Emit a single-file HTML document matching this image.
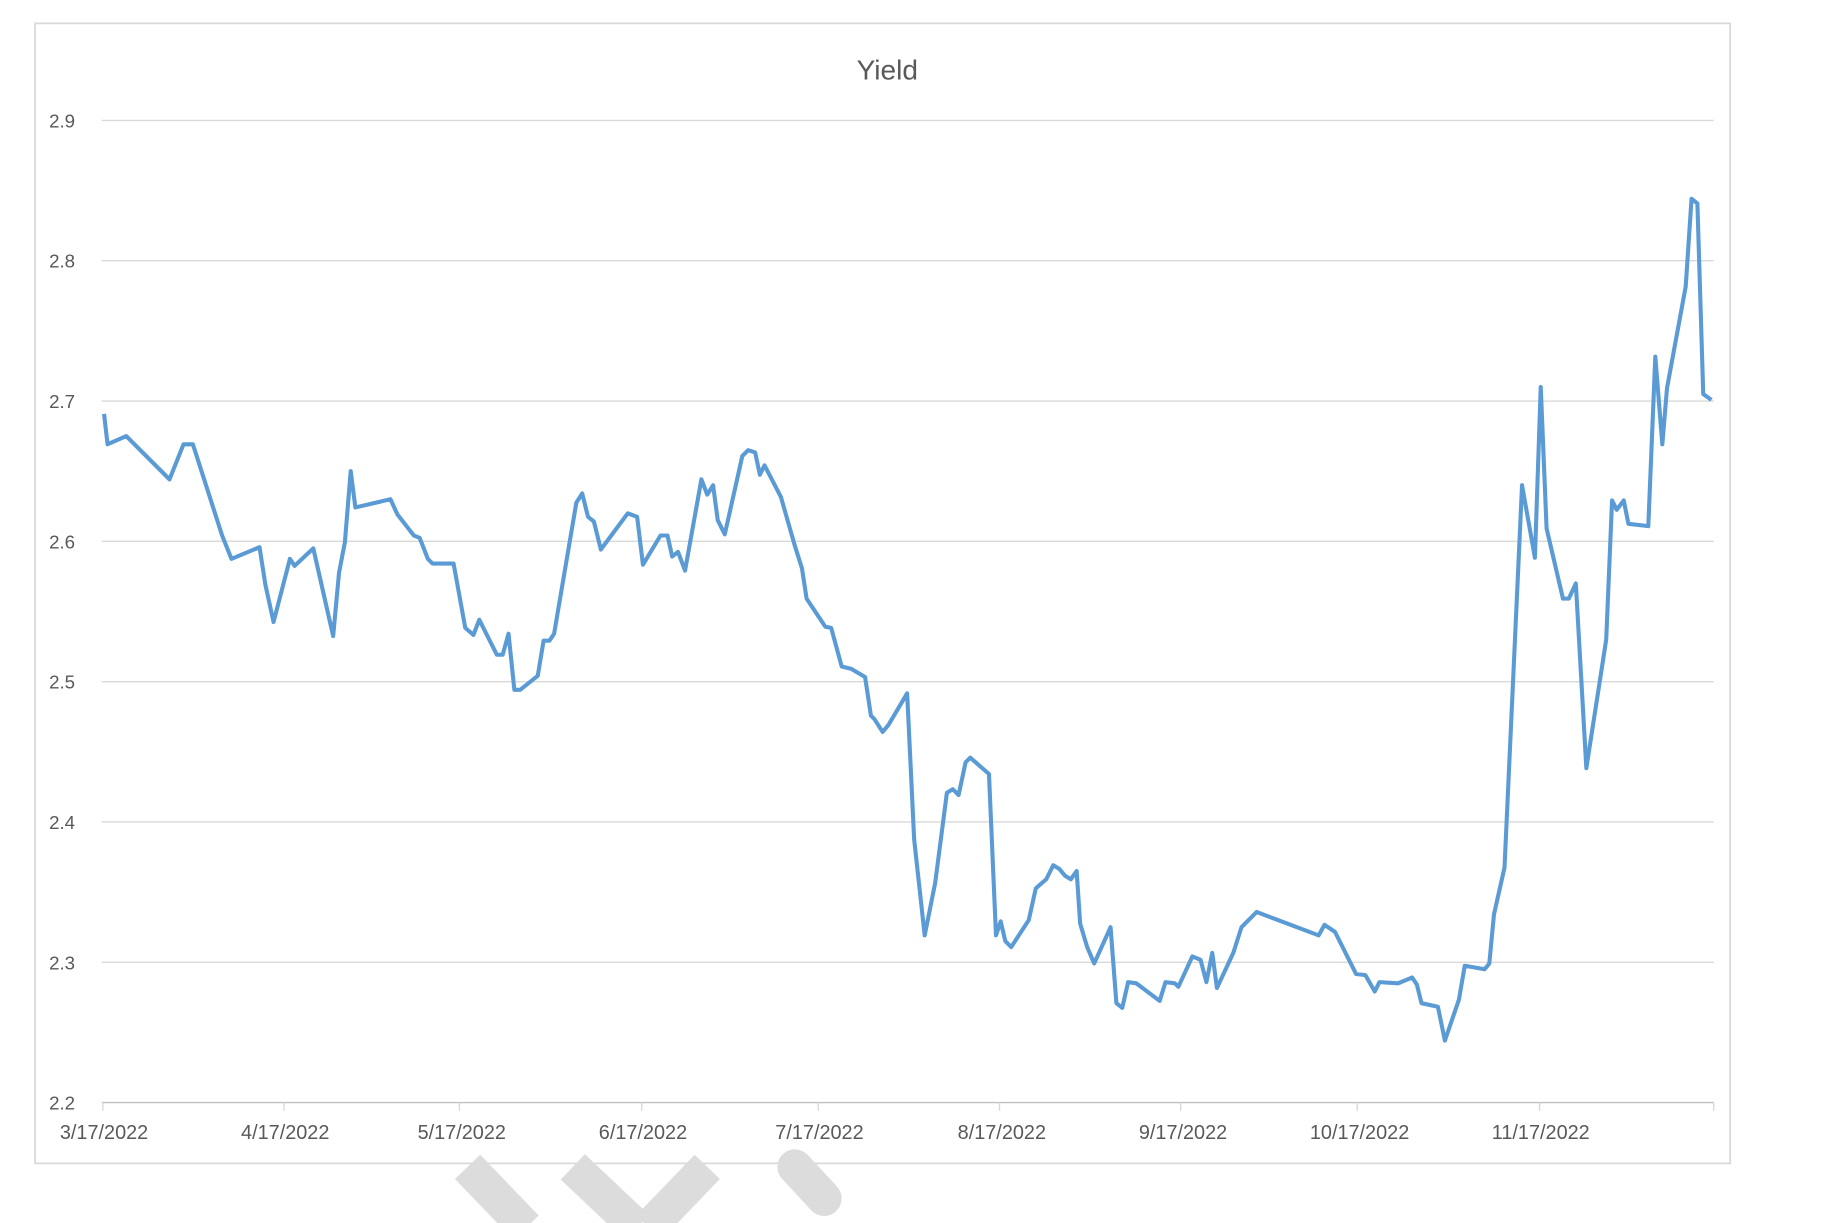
<!DOCTYPE html>
<html><head><meta charset="utf-8"><style>
html,body{margin:0;padding:0;background:#fff;width:1833px;height:1223px;overflow:hidden}
svg{display:block}
text{font-family:"Liberation Sans",sans-serif;fill:#595959}
</style></head><body>
<svg width="1833" height="1223" viewBox="0 0 1568 1046" preserveAspectRatio="none">
<rect x="0" y="0" width="1568" height="1046" fill="#fff"/>
<rect x="30" y="20" width="1450" height="975" fill="#fff" stroke="#d9d9d9" stroke-width="1.5"/>
<g stroke="#d9d9d9" stroke-width="1.2">
<line x1="87" y1="103" x2="1466" y2="103"/>
<line x1="87" y1="223" x2="1466" y2="223"/>
<line x1="87" y1="343" x2="1466" y2="343"/>
<line x1="87" y1="463" x2="1466" y2="463"/>
<line x1="87" y1="583" x2="1466" y2="583"/>
<line x1="87" y1="703" x2="1466" y2="703"/>
<line x1="87" y1="823" x2="1466" y2="823"/>
<line x1="87" y1="943" x2="1466" y2="943" stroke="#bfbfbf"/>
<line x1="88" y1="943" x2="88" y2="950"/><line x1="243" y1="943" x2="243" y2="950"/>
<line x1="393" y1="943" x2="393" y2="950"/><line x1="549" y1="943" x2="549" y2="950"/>
<line x1="700" y1="943" x2="700" y2="950"/><line x1="855" y1="943" x2="855" y2="950"/>
<line x1="1010" y1="943" x2="1010" y2="950"/><line x1="1161" y1="943" x2="1161" y2="950"/>
<line x1="1317" y1="943" x2="1317" y2="950"/><line x1="1466" y1="943" x2="1466" y2="950"/>
</g>
<text x="759" y="68" font-size="24" text-anchor="middle">Yield</text>
<g font-size="16" text-anchor="start">
<text x="42" y="109">2.9</text><text x="42" y="229">2.8</text><text x="42" y="349">2.7</text>
<text x="42" y="469">2.6</text><text x="42" y="589">2.5</text><text x="42" y="709">2.4</text>
<text x="42" y="829">2.3</text><text x="42" y="949">2.2</text>
</g>
<g font-size="17" text-anchor="middle">
<text x="89" y="974">3/17/2022</text><text x="244" y="974">4/17/2022</text>
<text x="395" y="974">5/17/2022</text><text x="550" y="974">6/17/2022</text>
<text x="701" y="974">7/17/2022</text><text x="857" y="974">8/17/2022</text>
<text x="1012" y="974">9/17/2022</text><text x="1163" y="974">10/17/2022</text>
<text x="1318" y="974">11/17/2022</text>
</g>
<polyline fill="none" stroke="#5b9bd5" stroke-width="3.5" stroke-linejoin="round" points="89,354 92,380 108,373 145,410 157,380 165,380 190,458 198,478 222,468 227,500 234,532 248,478 252,484 268,469 285,544 290,490 295,464 300,403 304,434 334,427 340,440 354,458 359,460 366,478 370,482 388,482 398,537 405,543 410,530 425,560 430,560 435,542 440,590 445,590 460,578 465,548 470,548 474,542 493,430 498,422 503,442 508,446 514,470 537,439 545,442 550,483 565,458 571,458 575,476 580,472 586,488 600,410 605,423 610,415 614,445 620,457 635,390 640,385 646,387 650,406 654,398 668,425 680,467 686,486 690,512 706,536 711,537 720,570 728,572 740,579 745,612 748,615 755,626 760,620 776,593 782,718 791,800 800,755 810,678 815,675 820,680 826,652 830,648 846,662 852,800 856,788 860,805 865,810 880,787 886,760 888,758 895,752 901,740 906,743 911,749 916,752 921,745 924,790 930,810 936,824 950,793 955,858 960,862 965,840 972,841 992,856 997,840 1005,841 1008,844 1020,818 1027,821 1032,840 1037,815 1041,845 1055,815 1062,793 1075,780 1128,800 1133,791 1142,797 1160,833 1168,834 1176,848 1180,840 1196,841 1208,836 1212,842 1216,858 1230,861 1236,890 1248,855 1253,826 1270,829 1274,824 1278,782 1287,742 1302,415 1313,477 1318,331 1323,452 1337,512 1342,512 1348,499 1357,657 1374,547 1379,428 1383,436 1389,428 1393,448 1410,450 1416,305 1422,380 1426,332 1442,245 1447,170 1452,174 1457,337 1464,342"/>
<g stroke="#dcdcdc" stroke-width="30" stroke-linecap="butt" fill="none">
<line x1="400" y1="998" x2="450" y2="1050"/>
<line x1="490" y1="998" x2="545" y2="1050"/>
<line x1="605" y1="998" x2="555" y2="1050"/>
</g>
<line x1="680" y1="998" x2="705" y2="1025" stroke="#dcdcdc" stroke-width="30" stroke-linecap="round"/>
</svg>
</body></html>
